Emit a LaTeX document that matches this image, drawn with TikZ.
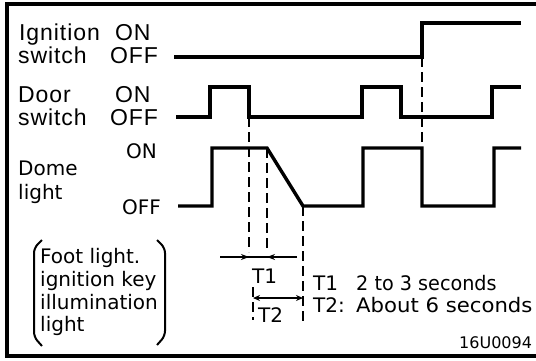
\documentclass[tikz,border=0pt]{standalone}
\usepackage{fontspec}
\usepackage{graphicx}
\usetikzlibrary{arrows.meta}
\newfontfamily\labfont[LetterSpace=4]{Liberation Sans}
\newfontfamily\dvfont{DejaVu Sans}
\begin{document}
\begin{tikzpicture}[x=1pt,y=-1pt,
  sig/.style={line width=3.4pt, line join=miter},
  dsh/.style={line width=1.8pt, dash pattern=on 10pt off 5pt},
  lbl/.style={anchor=base west, inner sep=0pt, font=\labfont\fontsize{23pt}{23pt}\selectfont},
  dlbl/.style={anchor=base west, inner sep=0pt, font=\dvfont\fontsize{20pt}{20pt}\selectfont},
  small/.style={anchor=base west, inner sep=0pt, font=\dvfont\fontsize{16pt}{16pt}\selectfont},
  tip/.style={line width=1.8pt, -{Stealth[length=8pt,width=6pt]}},
  frm/.style={line width=4.5pt}]
\useasboundingbox (0,0) rectangle (536,360);
% frame
\draw[frm] (5,4) -- (536,4);
\draw[line width=4pt] (7,2) -- (7,358);
\draw[frm] (5,356) -- (536,356);
% labels
\node[lbl] (ign) at (19,40) {Ignition};
\node[lbl] (ignon) at (115,40) {ON};
\node[lbl] (sw1) at (18,63) {switch};
\node[lbl] (ignoff) at (110,63) {OFF};
\node[lbl] (door) at (18,102) {Door};
\node[lbl] (dooron) at (115,102) {ON};
\node[lbl] (sw2) at (18,125) {switch};
\node[lbl] (dooroff) at (110,125) {OFF};
\node[dlbl] (domeon) at (126,158) {ON};
\node[dlbl] (dome) at (18,175) {Dome};
\node[dlbl] (light) at (18,199) {light};
\node[dlbl] (domeoff) at (122,214) {OFF};
% signals
\draw[sig] (174,57) -- (422,57) -- (422,23) -- (521,23);
\draw[sig] (176,117) -- (210,117) -- (210,87) -- (249,87) -- (249,117) -- (362,117) -- (362,87) -- (401,87) -- (401,117) -- (492,117) -- (492,87) -- (521,87);
\draw[sig] (178,206) -- (212,206) -- (212,148) -- (267,148) -- (303,206) -- (363,206) -- (363,148) -- (422,148) -- (422,206) -- (494,206) -- (494,148) -- (521,148);
% dashed guides
\draw[dsh] (249,117) -- (249,252);
\draw[dsh] (267,148) -- (267,252);
\draw[dsh] (303,206) -- (303,322);
\draw[dsh] (422,57) -- (422,148);
\draw[dsh] (253,287) -- (253,320);
% T1
\coordinate (t1a) at (220,257);
\coordinate (t1b) at (249,257);
\coordinate (t1c) at (267,257);
\coordinate (t1d) at (297,257);
\draw[line width=1.8pt] (t1a) -- (t1d);
\draw[tip] (t1a) -- (t1b);
\draw[tip] (t1d) -- (t1c);
\node[dlbl] (t1lab) at (252,283) {T1};
% T2
\coordinate (t2a) at (253,298);
\coordinate (t2b) at (303,298);
\draw[line width=1.8pt, {Stealth[length=7pt,width=6pt]}-{Stealth[length=7pt,width=6pt]}] (t2a) -- (t2b);
\node[dlbl] (t2lab) at (258,322) {T2};
% legend
\node[dlbl] (lt1) at (313,290) {T1};
\node[dlbl] (lt1v) at (356,290) {\scalebox{0.96}[1]{2 to 3 seconds}};
\node[dlbl] (lt2) at (313,312) {T2:};
\node[dlbl] (lt2v) at (356,312) {\scalebox{1.06}[1]{About 6 seconds}};
\node[small] (code) at (459,348) {16U0094};
% bracket text
\draw[line width=2pt, rounded corners=5pt] (42,240) -- (34,248) -- (34,337) -- (42,346);
\draw[line width=2pt, rounded corners=5pt] (157,240) -- (165,248) -- (165,336) -- (157,345);
\node[dlbl] (b1) at (40,263) {Foot light.};
\node[dlbl] (b2) at (40,286) {ignition key};
\node[dlbl] (b3) at (40,309) {illumination};
\node[dlbl] (b4) at (40,331) {light};
\end{tikzpicture}
\end{document}
